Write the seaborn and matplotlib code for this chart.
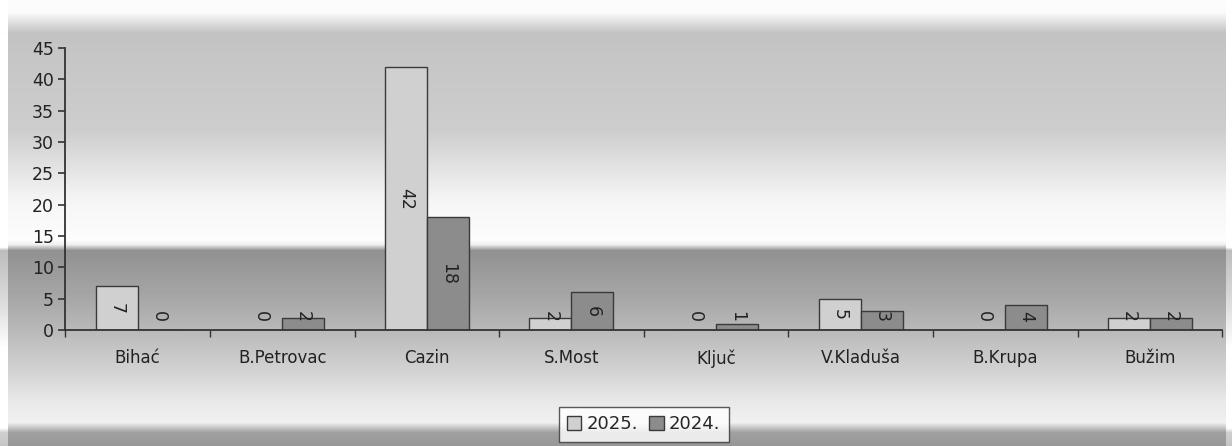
import numpy as np
import pandas as pd
import matplotlib
matplotlib.use('Agg')
import matplotlib.pyplot as plt
import seaborn as sns

# podaci sa grafikona
opcine = ['Bihać', 'B.Petrovac', 'Cazin', 'S.Most', 'Ključ', 'V.Kladuša', 'B.Krupa', 'Bužim']
god_2025 = [7, 0, 42, 2, 0, 5, 0, 2]
god_2024 = [0, 2, 18, 6, 1, 3, 4, 2]
godine = ['2025.', '2024.']

df = pd.DataFrame({
    'opcina': opcine * 2,
    'godina': [godine[0]] * len(opcine) + [godine[1]] * len(opcine),
    'broj': god_2025 + god_2024,
})

sns.set_theme(style='white')
plt.rcParams['font.family'] = ['DejaVu Sans']

fig = plt.figure(figsize=(12.32, 4.46), dpi=100)

# pozadina - sivi gradijent kao na skeniranom grafikonu
bg = fig.add_axes([0, 0, 1, 1], zorder=-10)
ys = np.arange(446)
prof = np.interp(ys,
                 [0, 12, 32, 60, 130, 200, 240, 244, 250, 300, 330, 370, 400, 422, 432, 446],
                 [252, 250, 195, 198, 205, 245, 252, 240, 145, 168, 185, 210, 232, 240, 160, 150])
edge = np.ones(1232)
edge[:8] = 1.3
edge[1226:] = 1.3
img = np.clip(prof[:, None] * edge[None, :], 0, 255) / 255.0
bg.imshow(img, cmap='gray', vmin=0, vmax=1, aspect='auto', extent=[0, 1, 0, 1])
bg.axis('off')

ax = fig.add_axes([0.053, 0.26, 0.939, 0.632])
ax.patch.set_alpha(0)

sns.barplot(data=df, x='opcina', y='broj', hue='godina', ax=ax,
            palette={'2025.': '#d0d0d0', '2024.': '#8c8c8c'},
            width=0.58, edgecolor='#3a3a3a', linewidth=1.0, saturation=1)

ax.set_ylim(0, 45)
ax.set_xlim(-0.5, len(opcine) - 0.5)
ax.set_yticks(range(0, 46, 5))
ax.set_xlabel('')
ax.set_ylabel('')
for s in ['top', 'right']:
    ax.spines[s].set_visible(False)
for s in ['left', 'bottom']:
    ax.spines[s].set_color('#333333')
    ax.spines[s].set_linewidth(1.3)
ax.tick_params(axis='y', which='major', direction='out', length=5, width=1.2,
               color='#333333', labelsize=12.5, labelcolor='#222222', pad=3, left=True)
ax.tick_params(axis='x', which='major', length=0, labelsize=12, labelcolor='#222222', pad=14)
ax.set_xticks(np.arange(-0.5, len(opcine), 1), minor=True)
ax.tick_params(axis='x', which='minor', direction='out', length=5, width=1.0,
               color='#333333', bottom=True)

# vrijednosti na stupcima
for cont in ax.containers:
    for bar in cont:
        h = bar.get_height()
        xc = bar.get_x() + bar.get_width() / 2
        ax.text(xc, max(h / 2, 2.2), f'{int(h)}', rotation=-90, ha='center', va='center',
                fontsize=12.5, color='#222222')

leg = ax.legend(loc='center', bbox_to_anchor=(0.5, -0.335), ncol=2, frameon=True,
                fontsize=13, handlelength=0.8, handleheight=0.8, handletextpad=0.3,
                columnspacing=0.6, borderpad=0.45, fancybox=False)
leg.get_frame().set_edgecolor('#333333')
leg.get_frame().set_facecolor('white')
leg.get_frame().set_linewidth(1.0)

fig.savefig('out.png', dpi=100)
